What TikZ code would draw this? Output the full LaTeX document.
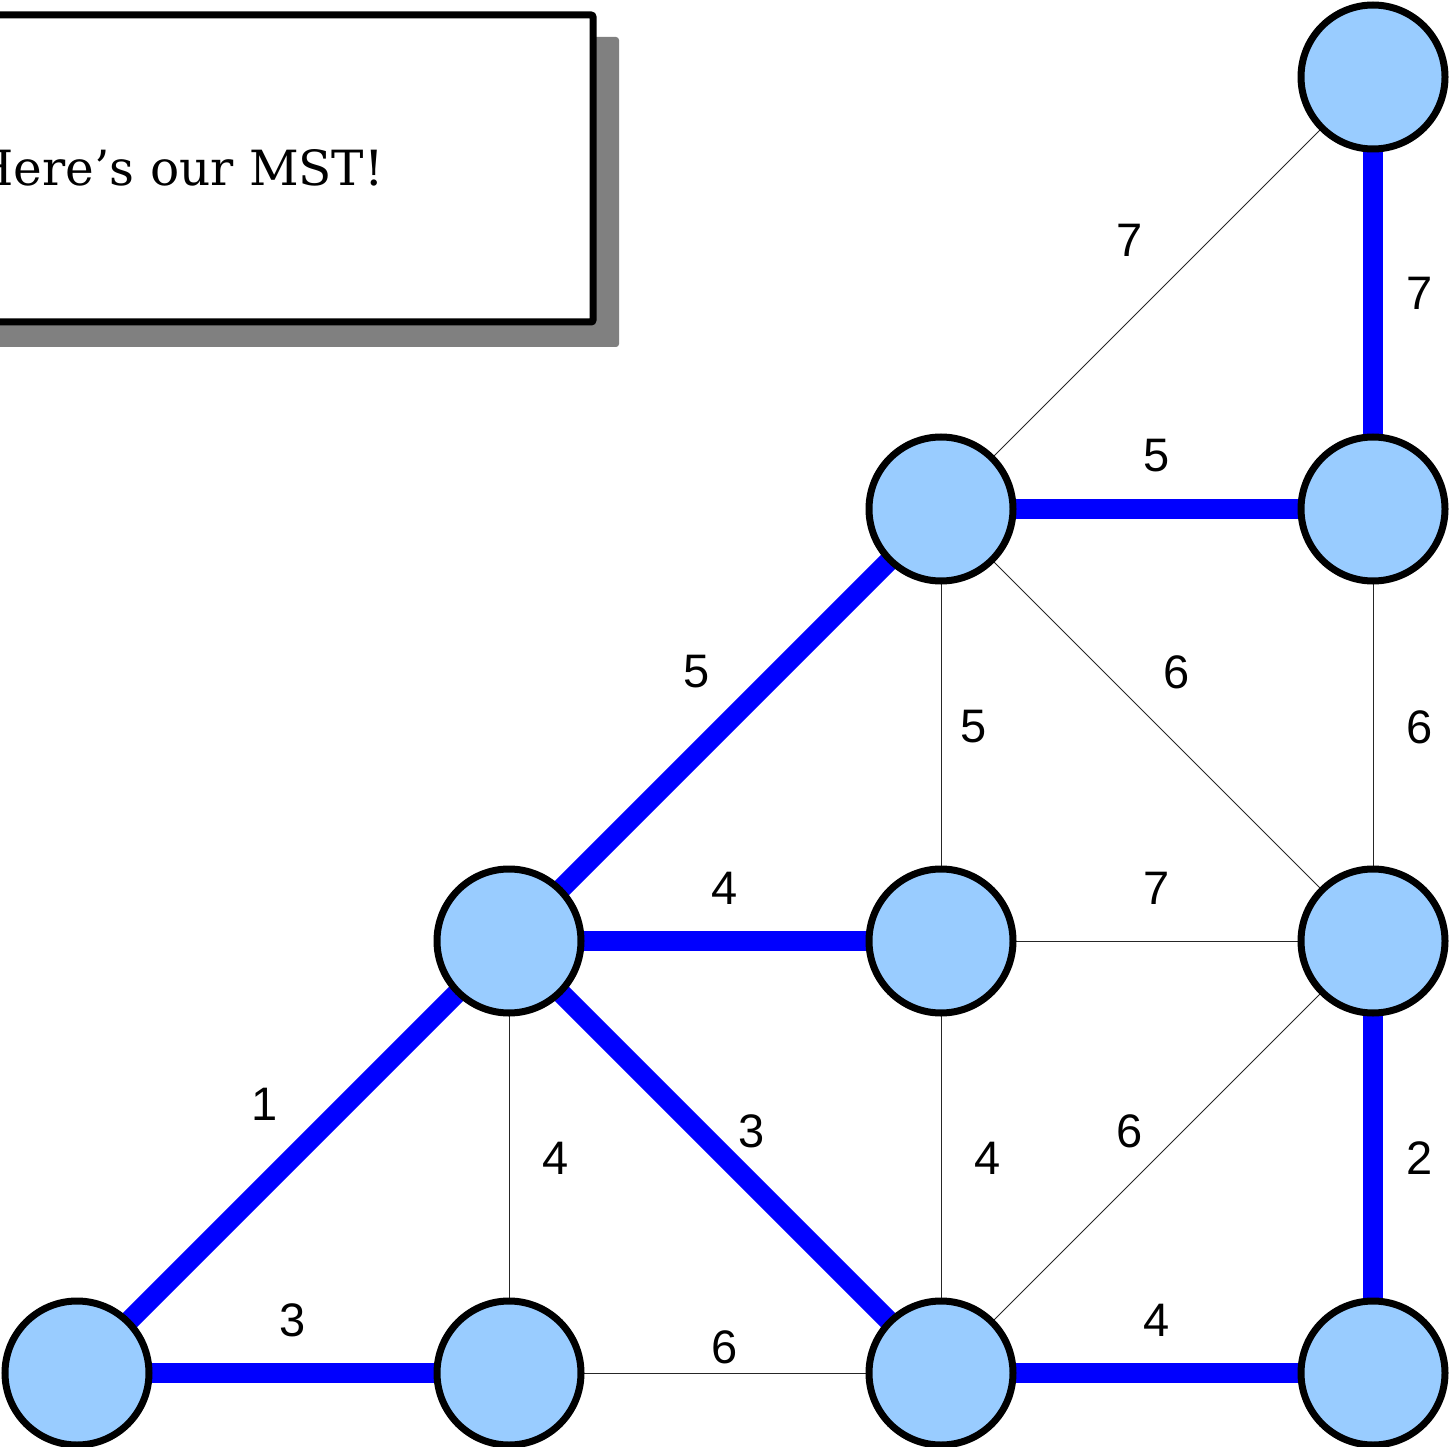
\documentclass[tikz,border=0pt]{standalone}
\usepackage{fontspec}
\setmainfont{DejaVu Serif}
\newfontfamily\lblfont{Liberation Sans}
\usetikzlibrary{backgrounds}
\definecolor{nodefill}{HTML}{99CCFF}
\definecolor{mstblue}{HTML}{0000FF}
\definecolor{shadowgray}{HTML}{808080}
\begin{document}
\begin{tikzpicture}[x=1pt,y=-1pt,
  vtx/.style={circle,draw=black,line width=7pt,fill=nodefill,minimum size=144pt,inner sep=0pt},
  mst/.style={draw=mstblue,line width=20pt},
  thin/.style={draw=black!85,line width=0.9pt},
  lbl/.style={font=\lblfont\fontsize{47}{56}\selectfont,inner sep=0pt}]
\useasboundingbox (0,0) rectangle (1449,1447);
% message box
\fill[shadowgray,rounded corners=3pt] (-40,37) rectangle (619,347);
\draw[line width=7pt,fill=white,rounded corners=2pt] (-60,15) rectangle (593,322);
\node[anchor=base east,inner sep=0pt,font=\fontsize{48.5}{58}\selectfont] (msg) at (384,186) {Here’s our MST!};
% vertices
\node[vtx] (a) at (1373,77) {};
\node[vtx] (b) at (941,509) {};
\node[vtx] (c) at (1373,509) {};
\node[vtx] (d) at (509,941) {};
\node[vtx] (e) at (941,941) {};
\node[vtx] (f) at (1373,941) {};
\node[vtx] (g) at (77,1373) {};
\node[vtx] (h) at (509,1373) {};
\node[vtx] (i) at (941,1373) {};
\node[vtx] (j) at (1373,1373) {};
\begin{scope}[on background layer]
\draw[thin] (a.center) -- (b.center);
\draw[mst] (a.center) -- (c.center);
\draw[mst] (b.center) -- (c.center);
\draw[mst] (b.center) -- (d.center);
\draw[thin] (b.center) -- (e.center);
\draw[thin] (b.center) -- (f.center);
\draw[thin] (c.center) -- (f.center);
\draw[mst] (d.center) -- (e.center);
\draw[thin] (e.center) -- (f.center);
\draw[mst] (d.center) -- (g.center);
\draw[thin] (d.center) -- (h.center);
\draw[mst] (d.center) -- (i.center);
\draw[thin] (e.center) -- (i.center);
\draw[thin] (f.center) -- (i.center);
\draw[mst] (f.center) -- (j.center);
\draw[mst] (g.center) -- (h.center);
\draw[thin] (h.center) -- (i.center);
\draw[mst] (i.center) -- (j.center);
\end{scope}
% weights
\node[lbl] (wab) at (1130,240) {7};
\node[lbl] (wac) at (1420,293) {7};
\node[lbl] (wbc) at (1157,456) {5};
\node[lbl] (wbd) at (697,672) {5};
\node[lbl] (wbe) at (974,727) {5};
\node[lbl] (wbf) at (1177,672) {6};
\node[lbl] (wcf) at (1420,727) {6};
\node[lbl] (wde) at (725,888) {4};
\node[lbl] (wef) at (1157,888) {7};
\node[lbl] (wdg) at (265,1104) {1};
\node[lbl] (wdh) at (556,1158) {4};
\node[lbl] (wdi) at (752,1131) {3};
\node[lbl] (wei) at (988,1158) {4};
\node[lbl] (wfi) at (1130,1131) {6};
\node[lbl] (wfj) at (1420,1158) {2};
\node[lbl] (wgh) at (293,1320) {3};
\node[lbl] (whi) at (725,1347) {6};
\node[lbl] (wij) at (1157,1320) {4};
\end{tikzpicture}
\end{document}
